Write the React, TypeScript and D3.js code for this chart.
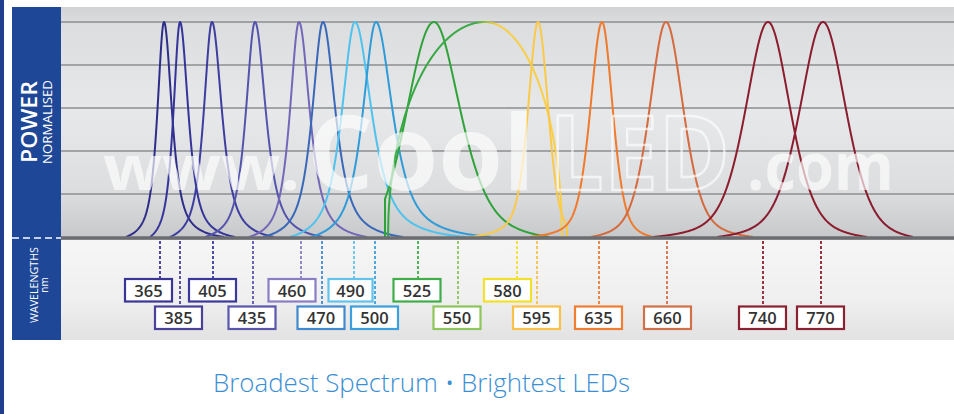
import React, { useMemo } from 'react';
import * as d3 from 'd3';

const W = 954;
const H = 414;

// ---------- wavelength labels ----------
const labelWavelengths = [365, 385, 405, 435, 460, 470, 490, 500, 525, 550, 580, 595, 635, 660, 740, 770];
// position along the spectrum strip (axis units) of each dotted marker line
const markerPositions = [99, 119, 152, 192, 240, 261, 293, 314, 357, 397, 456, 476, 538, 606, 702, 760];
// position of the centre of each label box
const labelPositions = [87.5, 117.5, 151.5, 191, 231, 260, 289.5, 313.5, 356, 396, 446.5, 475.5, 537.5, 606.5, 701.5, 759.5];
const labelRows = [0, 1, 0, 1, 0, 1, 0, 1, 0, 1, 0, 1, 1, 1, 1, 1];
const labelColors = [
  '#3b3596', '#4a4299', '#3b3a9c', '#5a55ad', '#8a7dc4', '#4189cf', '#62c3ec', '#3ba0dc',
  '#3fae49', '#8dc65a', '#f2e12a', '#f9c04a', '#ef7d32', '#d27048', '#8b2130', '#8b2131',
];

// ---------- spectral curves ----------
const curveNames = ['365', '385', '405', '435', '460', '470', '490', '500', '525', '550/580', '595', '635', '660', '740', '770'];
const curveProfiles = ['peak', 'peak', 'peak', 'peak', 'peak', 'peak', 'peak', 'peak', 'peak', 'arc', 'peak', 'peak', 'peak', 'peak', 'peak'];
const peakPositions = [103, 119, 151, 194, 238, 262, 294, 315, 373, 424, 477, 541, 605, 707, 762];
const widthLeft = [8, 8, 10, 11, 11, 13, 16, 16, 31, 0, 12, 14, 20, 27, 28];
const widthRight = [9.5, 10, 12, 13, 13, 15, 20, 20, 32, 0, 12, 13, 21, 27, 28];
const reachLeft = [38, 30, 42, 50, 50, 60, 65, 65, 49, 97, 68, 72, 75, 115, 106];
const reachRight = [60, 55, 62, 68, 68, 80, 110, 115, 115, 77, 29, 51, 87, 99, 90];
const mixLeft = [0.8, 0.8, 0.8, 0.8, 0.8, 0.8, 0.8, 0.8, 0, 0, 0.6, 0.5, 0.5, 0.5, 0.5];
const mixRight = [0.8, 0.8, 0.8, 0.8, 0.8, 0.8, 0.8, 0.8, 0.6, 0, 0.3, 0.5, 0.5, 0.5, 0.5];
const cutLeft = [false, false, false, false, false, false, false, false, true, true, false, false, false, false, false];
const cutRight = [false, false, false, false, false, false, false, false, false, true, true, false, false, false, false];
const curveColors = [
  '#2e2d8a', '#34349a', '#3d3da0', '#5454ad', '#7467b8', '#3a68b8', '#4fc3ee', '#2f9bd8',
  '#2fa33a', 'url(#broadGrad)', '#fbc94a', '#ef7a2c', '#d46a3e', '#8c1d2c', '#8a1c30',
];

// ---------- power grid ----------
const gridValues = [0.2, 0.4, 0.6, 0.8, 1.0];

const caption = 'Broadest Spectrum \u2022 Brightest LEDs';

function peakShape(d: number, w: number, eta: number) {
  const r = Math.abs(d) / w;
  return eta / (1 + r * r) + (1 - eta) * Math.exp(-Math.LN2 * r * r);
}

export default function App() {
  const x = d3.scaleLinear().domain([0, 893]).range([61, 954]);
  const y = d3.scaleLinear().domain([0, 1]).range([237, 22]);

  const curves = useMemo(() => {
    const line = d3.line<[number, number]>().x((d) => x(d[0])).y((d) => y(d[1]));
    return peakPositions.map((p, i) => {
      const arc = curveProfiles[i] === 'arc';
      const sides = [
        { w: widthLeft[i], D: reachLeft[i], eta: mixLeft[i], cut: cutLeft[i] },
        { w: widthRight[i], D: reachRight[i], eta: mixRight[i], cut: cutRight[i] },
      ];
      const val = (s: typeof sides[0], d: number) => {
        if (arc) return Math.sqrt(Math.max(0, 1 - (d / s.D) * (d / s.D)));
        const floor = s.cut ? 0 : peakShape(s.D, s.w, s.eta);
        return Math.max(0, (peakShape(d, s.w, s.eta) - floor) / (1 - floor));
      };
      const L = sides[0];
      const R = sides[1];
      const pts: [number, number][] = [];
      if (L.cut) pts.push([p - L.D, 0]);
      for (let d = L.D; d > 0; d -= 0.5) pts.push([p - d, val(L, d)]);
      for (let d = 0; d <= R.D; d += 0.5) pts.push([p + d, val(R, d)]);
      if (R.cut) pts.push([p + R.D, 0]);
      return { path: line(pts) as string, color: curveColors[i], name: curveNames[i], x0: x(p - L.D), x1: x(p + R.D) };
    });
  }, []);

  const broad = curves[9];

  return (
    <svg width={W} height={H} style={{ position: 'absolute', left: 0, top: 0, display: 'block', background: '#fff' }}>
      <defs>
        <linearGradient id="plotGrad" x1="0" y1="0" x2="0" y2="1">
          <stop offset="0" stopColor="#d2d3d5" />
          <stop offset="0.07" stopColor="#dcdddf" />
          <stop offset="0.45" stopColor="#e7e8e9" />
          <stop offset="0.8" stopColor="#dcdddf" />
          <stop offset="1" stopColor="#c6c7c9" />
        </linearGradient>
        <linearGradient id="stripGrad" x1="0" y1="0" x2="0" y2="1">
          <stop offset="0" stopColor="#f6f6f7" />
          <stop offset="0.6" stopColor="#efeff0" />
          <stop offset="1" stopColor="#e2e2e3" />
        </linearGradient>
        <linearGradient id="broadGrad" gradientUnits="userSpaceOnUse" x1={broad.x0} y1="0" x2={broad.x1} y2="0">
          <stop offset="0" stopColor="#36a844" />
          <stop offset="0.5" stopColor="#3aaa45" />
          <stop offset="0.62" stopColor="#f6cf45" />
          <stop offset="1" stopColor="#f8cf48" />
        </linearGradient>
      </defs>

      {/* outer left edge */}
      <rect x={0} y={0} width={4} height={H} fill="#1d3f8e" />

      {/* plot background */}
      <rect x={61} y={7} width={W - 61} height={233} fill="url(#plotGrad)" />
      <rect x={61} y={240} width={W - 61} height={100} fill="url(#stripGrad)" />

      {/* grid lines */}
      {gridValues.map((v) => (
        <line key={v} x1={61} x2={W} y1={y(v)} y2={y(v)} stroke="#8d8e90" strokeWidth={1.6} />
      ))}

      {/* curves */}
      <g fill="none" strokeWidth={2} strokeLinejoin="round">
        {curves.map((c) => (
          <path key={c.name} d={c.path} stroke={c.color} />
        ))}
      </g>

      {/* watermark */}
      <g fill="#ffffff" opacity={0.66} fontFamily="'Open Sans', 'DejaVu Sans', sans-serif" fontWeight={700}>
        <text x={103} y={190} fontSize={62} textLength={197} lengthAdjust="spacingAndGlyphs">www.</text>
        <text x={307} y={190} fontSize={104} textLength={228} lengthAdjust="spacingAndGlyphs">Cool</text>
        <text x={549} y={190} fontSize={104} textLength={181} lengthAdjust="spacingAndGlyphs" fill="none" stroke="#ffffff" strokeWidth={2.5}>LED</text>
        <text x={747} y={190} fontSize={66} textLength={147} lengthAdjust="spacingAndGlyphs">.com</text>
      </g>

      {/* baseline */}
      <line x1={61} x2={W} y1={238} y2={238} stroke="#6c6d70" strokeWidth={3.5} />

      {/* left label panel */}
      <rect x={12} y={7} width={49} height={333} fill="#1e4797" />
      <line x1={12} x2={61} y1={238} y2={238} stroke="#ffffff" strokeWidth={1.6} strokeDasharray="7 4" />
      <g fill="#ffffff" fontFamily="'Open Sans', 'Lato', sans-serif" textAnchor="middle">
        <text transform="translate(37,122) rotate(-90)" fontSize={21} fontWeight={600} textLength={82} lengthAdjust="spacingAndGlyphs">POWER</text>
        <text transform="translate(52,122) rotate(-90)" fontSize={12} textLength={84} lengthAdjust="spacingAndGlyphs">NORMALISED</text>
        <text transform="translate(38,285) rotate(-90)" fontSize={10.5} textLength={76} lengthAdjust="spacingAndGlyphs">WAVELENGTHS</text>
        <text transform="translate(48,285) rotate(-90)" fontSize={10}>nm</text>
      </g>

      {/* wavelength markers and labels */}
      {labelWavelengths.map((wl, i) => {
        const top = labelRows[i] === 0 ? 279 : 306.5;
        const bw = wl === 490 ? 44 : 47;
        const cx = x(labelPositions[i]);
        return (
          <g key={wl}>
            <line x1={x(markerPositions[i])} x2={x(markerPositions[i])} y1={241} y2={top} stroke={labelColors[i]} strokeWidth={1.8} strokeDasharray="3 2" />
            <rect x={cx - bw / 2} y={top} width={bw} height={22.5} fill="#ffffff" stroke={labelColors[i]} strokeWidth={2.2} />
            <text x={cx} y={top + 17.5} textAnchor="middle" fontFamily="'Open Sans', Lato, sans-serif" fontWeight={600} fontSize={16.5} fill="#333333">{wl}</text>
          </g>
        );
      })}

      {/* caption */}
      <text x={421.5} y={392} textAnchor="middle" fontFamily="'Open Sans', Lato, sans-serif" fontWeight={300} fontSize={25} fill="#3a8ed3" textLength={417} lengthAdjust="spacingAndGlyphs">{caption}</text>
    </svg>
  );
}
